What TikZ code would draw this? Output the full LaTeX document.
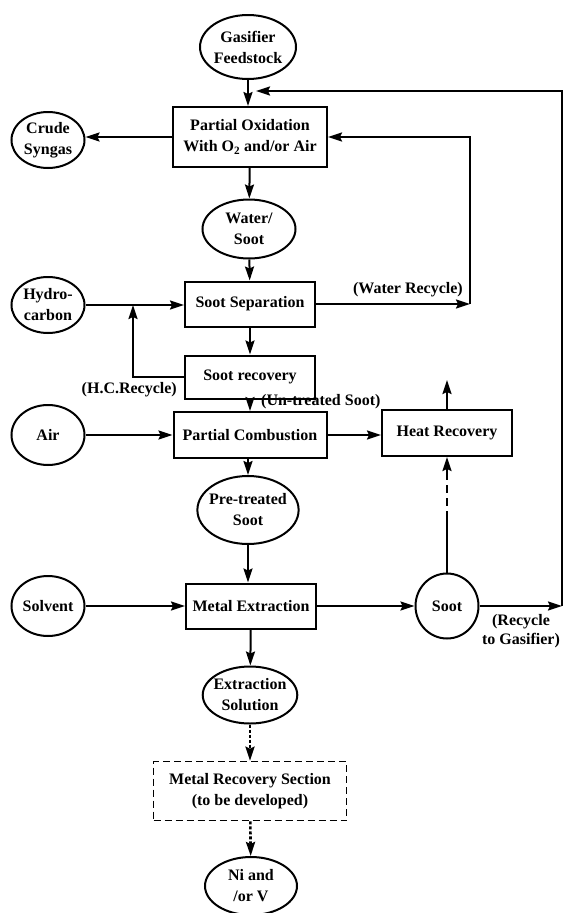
\documentclass[tikz,border=0pt]{standalone}
\usepackage{fontspec}
\setmainfont{Liberation Serif}
\usetikzlibrary{shapes.geometric,arrows.meta}
\tikzset{
  txt/.style={font=\bfseries\fontsize{16}{21}\selectfont, align=center, inner sep=0pt},
  proc/.style={txt, draw, line width=2pt, rectangle},
  stream/.style={txt, draw, line width=2pt, ellipse, inner sep=-3pt},
  flow/.style={line width=2pt, -{Stealth[length=14pt,width=9pt,inset=2pt]}},
  dotflow/.style={flow, dash pattern=on 3pt off 2pt, line width=2.6pt},
  dashflow/.style={flow, dash pattern=on 62pt off 5pt on 8pt off 5pt on 8pt off 5pt on 60pt},
  lbl/.style={font=\bfseries\fontsize{16}{19}\selectfont, align=center, inner sep=0pt}
}
\begin{document}
\begin{tikzpicture}[x=1pt,y=-1pt]
\useasboundingbox (0,0) rectangle (564,913);
% main column
\node[stream, minimum width=96, minimum height=64] (feed) at (248,47) {Gasifier\\Feedstock};
\node[proc, minimum width=154, minimum height=60] (partox) at (250,137) {Partial Oxidation\\With O\textsubscript{2} and/or Air};
\node[stream, minimum width=73, minimum height=56] (crude) at (48,140) {Crude\\Syngas};
\node[stream, minimum width=93, minimum height=59] (water) at (249,229) {Water/\\Soot};
\node[proc, minimum width=130, minimum height=45] (sep) at (250,304) {Soot Separation};
\node[stream, minimum width=73, minimum height=56] (hc) at (48,305) {Hydro-\\carbon};
\node[proc, minimum width=130, minimum height=43] (rec) at (250,377) {Soot recovery};
\node[proc, minimum width=153, minimum height=46] (comb) at (250,435) {Partial Combustion};
\node[stream, minimum width=73, minimum height=60] (air) at (48,435) {Air};
\node[proc, minimum width=130, minimum height=46] (heat) at (447,433) {Heat Recovery};
\node[stream, minimum width=96, minimum height=68] (pre) at (248,510) {Pre-treated\\Soot};
\node[proc, minimum width=130, minimum height=45] (ext) at (251,606) {Metal Extraction};
\node[stream, minimum width=73, minimum height=60] (solv) at (48,606) {Solvent};
\node[stream, minimum width=63, minimum height=65] (soot) at (447,606) {Soot};
\node[stream, minimum width=92, minimum height=57] (sol) at (250,695) {Extraction\\Solution};
\node[proc, dash pattern=on 7pt off 4pt, line width=1.6pt, minimum width=193, minimum height=59] (metrec) at (250,791) {Metal Recovery Section\\(to be developed)};
\node[stream, minimum width=92, minimum height=58] (ni) at (251,886) {Ni and\\/or V};

% free ends and corners
\coordinate (gin) at (256,91);
\coordinate (wcorner) at (470,304);
\coordinate (hcj) at (133,305);
\coordinate (heatout) at (447,380);
\coordinate (rg) at (562,606);

% labels
\node[lbl, anchor=south east] (wrlbl) at (463,297) {(Water Recycle)};
\node[lbl, anchor=north east] (hclbl) at (177,382) {(H.C.Recycle)};
\node[lbl, anchor=west] (utlbl) at (261,402) {(Un-treated Soot)};
\node[lbl] (rglbl) at (521,631) {(Recycle\\to Gasifier)};

% connectors
\draw[flow] (feed.south) -- (feed.south |- partox.north);
\draw[flow] (partox.west) -- (partox.west -| crude.east);
\draw[flow] (partox) -- (water);
\draw[flow] (water) -- (sep);
\draw[flow] (hc.east) -- (hc.east -| sep.west);
\draw[flow] (sep.east) -- (wcorner);
\draw[flow] (wcorner) |- (partox.east);
\draw[flow] (sep) -- (rec);
\draw[flow] (rec.west) -| (hcj);
\draw[flow] (rec) -- (comb);
\draw[flow] (air) -- (comb);
\draw[flow] (comb.east) -- (comb.east -| heat.west);
\draw[flow] (heat.north) -- (heatout);
\draw[dashflow] (soot) -- (heat);
\draw[flow] (comb.south -| pre.north) -- (pre);
\draw[flow] (pre) -- (pre.south |- ext.north);
\draw[flow] (solv) -- (ext);
\draw[flow] (ext) -- (soot);
\draw[flow] (soot.east) -- (rg);
\draw[flow] (rg) |- (gin);
\draw[flow] (ext) -- (sol);
\draw[dotflow] (sol) -- (metrec);
\draw[dotflow] (metrec) -- (ni);
\end{tikzpicture}
\end{document}
